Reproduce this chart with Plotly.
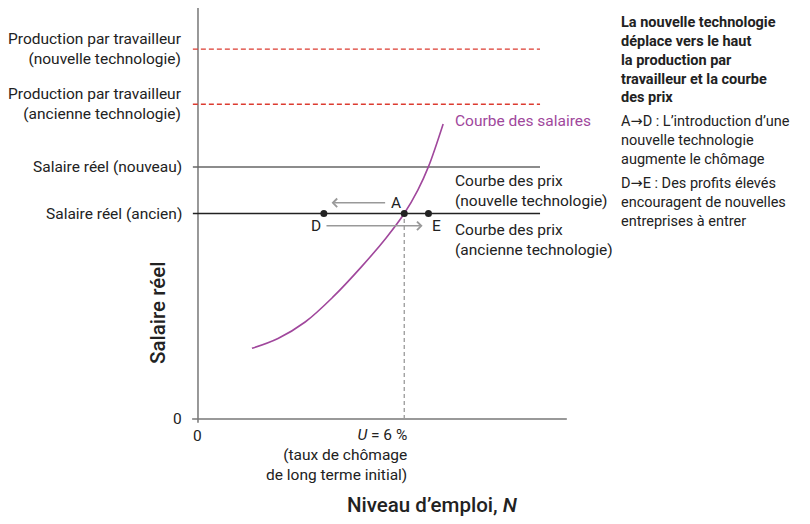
import plotly.graph_objects as go

# niveaux (axe vertical)
prod_nouvelle = 90.0
prod_ancienne = 76.6
salaire_nouveau = 61.3
salaire_ancien = 50.0

# extrémités des droites horizontales
line_x = [-1.4, 93.2]

# courbe des salaires
wage_x = [14.7, 21.8, 29.2, 36.8, 44.7, 51.2, 56.2, 59.9, 62.8, 66.8]
wage_y = [17.2, 19.6, 23.6, 29.7, 37.2, 44.0, 50.0, 55.7, 61.4, 71.8]

# points D, A, E
pt_names = ['D', 'A', 'E']
pt_x = [34.3, 56.2, 62.8]
pt_y = [50.0, 50.0, 50.0]

# flèches (départ, arrivée)
arrow_top = dict(x0=51.4, x1=36.4, y=52.6)
arrow_bottom = dict(x0=34.6, x1=61.2, y=47.0)

FONT = 'Roboto'
DARK = '#222222'
GREY = '#777777'
RED = '#dc3b30'
PURPLE = '#a0479c'
ARROW = '<span style="font-family:DejaVu Sans">→</span>'

fig = go.Figure()

# axes
fig.add_trace(go.Scatter(x=[0, 0], y=[-0.9, 101], mode='lines',
                         line=dict(color=GREY, width=1.5), hoverinfo='skip'))
fig.add_trace(go.Scatter(x=[-1.6, 100.5], y=[0, 0], mode='lines',
                         line=dict(color=GREY, width=1.5), hoverinfo='skip'))

# production par travailleur
for lvl in [prod_nouvelle, prod_ancienne]:
    fig.add_trace(go.Scatter(x=line_x, y=[lvl, lvl], mode='lines',
                             line=dict(color=RED, width=1.4, dash='5px,3px'),
                             hoverinfo='skip'))

# courbes des prix
fig.add_trace(go.Scatter(x=line_x, y=[salaire_nouveau] * 2, mode='lines',
                         line=dict(color='#666666', width=1.5), hoverinfo='skip'))
fig.add_trace(go.Scatter(x=line_x, y=[salaire_ancien] * 2, mode='lines',
                         line=dict(color=DARK, width=1.5), hoverinfo='skip'))

# pointillé vertical sous A
fig.add_trace(go.Scatter(x=[pt_x[1], pt_x[1]], y=[0, pt_y[1]], mode='lines',
                         line=dict(color='#999999', width=1.3, dash='4px,3px'),
                         hoverinfo='skip'))

# courbe des salaires
fig.add_trace(go.Scatter(x=wage_x, y=wage_y, mode='lines',
                         line=dict(color=PURPLE, width=1.6, shape='spline', smoothing=1.0),
                         hoverinfo='skip'))

# points
fig.add_trace(go.Scatter(x=pt_x, y=pt_y, mode='markers',
                         marker=dict(color=DARK, size=7), hoverinfo='skip'))

# flèches
for arr in [arrow_top, arrow_bottom]:
    fig.add_annotation(x=arr['x1'], y=arr['y'], ax=arr['x0'], ay=arr['y'],
                       xref='x', yref='y', axref='x', ayref='y', text='',
                       showarrow=True, arrowhead=4, arrowsize=1.1,
                       arrowwidth=1.5, arrowcolor='#999999')

lbl = dict(font=dict(family=FONT, size=15.5, color=DARK), showarrow=False)

# lettres
fig.add_annotation(x=54.0, y=arrow_top['y'], text='A', xanchor='center', yanchor='middle', **lbl)
fig.add_annotation(x=32.2, y=arrow_bottom['y'], text='D', xanchor='center', yanchor='middle', **lbl)
fig.add_annotation(x=65.1, y=arrow_bottom['y'], text='E', xanchor='center', yanchor='middle', **lbl)

# étiquettes de l'axe vertical
y_labels = [
    (prod_nouvelle, 'Production par travailleur<br>(nouvelle technologie)'),
    (prod_ancienne, 'Production par travailleur<br>(ancienne technologie)'),
    (salaire_nouveau, 'Salaire réel (nouveau)'),
    (salaire_ancien, 'Salaire réel (ancien)'),
    (0, '0'),
]
for yv, txt in y_labels:
    fig.add_annotation(x=-3.8, y=yv, text=txt, xanchor='right', yanchor='middle',
                       align='right', **lbl)

# étiquettes de l'axe horizontal
fig.add_annotation(x=0, y=-4.1, text='0', xanchor='center', yanchor='middle', **lbl)
fig.add_annotation(x=57.6, y=-8.8,
                   text='<i>U</i> = 6 %<br>(taux de chômage<br>de long terme initial)',
                   xanchor='right', yanchor='middle', align='right', **lbl)

# titres des axes
fig.add_annotation(x=64, y=-20.9, text='Niveau d’emploi, <i>N</i>',
                   xanchor='center', yanchor='middle', showarrow=False,
                   font=dict(family=FONT, size=20.5, color=DARK, weight=500))
fig.add_annotation(x=-10.9, y=25.8, text='Salaire réel', textangle=-90,
                   xanchor='center', yanchor='middle', showarrow=False,
                   font=dict(family=FONT, size=20.5, color=DARK, weight=500))

# étiquettes des courbes
fig.add_annotation(x=69.5, y=72.5, text='Courbe des salaires', xanchor='left',
                   yanchor='middle', showarrow=False,
                   font=dict(family=FONT, size=15.5, color=PURPLE))
fig.add_annotation(x=69.5, y=55.5, text='Courbe des prix<br>(nouvelle technologie)',
                   xanchor='left', yanchor='middle', align='left', **lbl)
fig.add_annotation(x=69.5, y=43.6, text='Courbe des prix<br>(ancienne technologie)',
                   xanchor='left', yanchor='middle', align='left', **lbl)

# encadré explicatif
side = dict(xanchor='left', yanchor='middle', align='left', showarrow=False)
fig.add_annotation(x=114.7, y=87.3,
                   text='<b>La nouvelle technologie<br>déplace vers le haut<br>la production par'
                        '<br>travailleur et la courbe<br>des prix</b>',
                   font=dict(family=FONT, size=14.5, color=DARK), **side)
fig.add_annotation(x=114.7, y=67.7,
                   text=f'A{ARROW}D : L’introduction d’une<br>nouvelle technologie<br>augmente le chômage',
                   font=dict(family=FONT, size=14.5, color=DARK), **side)
fig.add_annotation(x=114.7, y=52.8,
                   text=f'D{ARROW}E : Des profits élevés<br>encouragent de nouvelles<br>entreprises à entrer',
                   font=dict(family=FONT, size=14.5, color=DARK), **side)

fig.update_layout(
    width=810,
    height=524,
    margin=dict(l=0, r=0, t=0, b=0),
    paper_bgcolor='white',
    plot_bgcolor='white',
    showlegend=False,
    # la page ajoute une marge de 8 px : plages décalées en conséquence
    xaxis=dict(range=[-51.77, 168.94], visible=False, fixedrange=True),
    yaxis=dict(range=[-27.49, 100.0], visible=False, fixedrange=True),
)

fig.write_html('out.html')
